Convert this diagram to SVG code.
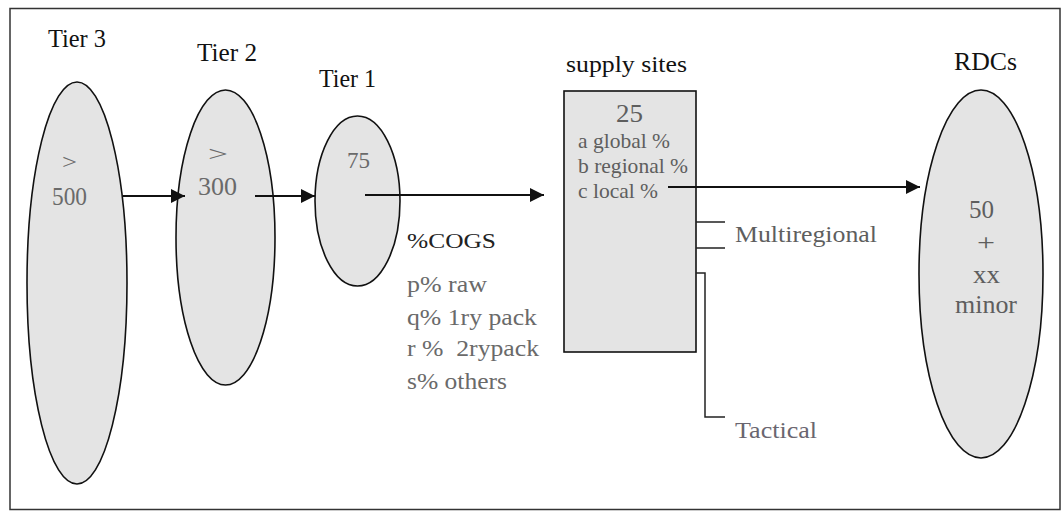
<svg xmlns="http://www.w3.org/2000/svg" width="1061" height="511" viewBox="0 0 1061 511">
  <style>
    .shape { fill: #e4e4e4; stroke: #111; stroke-width: 1.6; }
    .title { font-family: "Liberation Serif", "DejaVu Serif", serif; fill: #111; }
    .inner { font-family: "Liberation Serif", "DejaVu Serif", serif; fill: #6a6a6a; }
    .note  { font-family: "Liberation Serif", "DejaVu Serif", serif; fill: #5e5e5e; }
    .dark  { font-family: "Liberation Serif", "DejaVu Serif", serif; fill: #222; }
    .tact  { font-family: "Liberation Serif", "DejaVu Serif", serif; fill: #6a6670; }
    .link  { stroke: #111; stroke-width: 2; fill: none; }
    .bracket { stroke: #222; stroke-width: 1.5; fill: none; }
  </style>
  <defs>
    <marker id="head" viewBox="0 0 10 10" refX="10" refY="5" markerWidth="8" markerHeight="7" markerUnits="strokeWidth" orient="auto">
      <path d="M0,0 L10,5 L0,10 Z" fill="#111"/>
    </marker>
  </defs>

  <rect x="0" y="0" width="1061" height="511" fill="#ffffff"/>
  <!-- outer frame -->
  <rect x="10" y="8.5" width="1050" height="501" fill="none" stroke="#333" stroke-width="1.5"/>

  <g id="tier3">
    <ellipse class="shape" cx="77" cy="283" rx="50" ry="201"/>
    <text class="title" x="48" y="47" font-size="26" textLength="58" lengthAdjust="spacingAndGlyphs">Tier 3</text>
    <text class="inner" x="62" y="169" font-size="21" textLength="15" lengthAdjust="spacingAndGlyphs">&gt;</text>
    <text class="inner" x="52" y="205" font-size="25" textLength="35" lengthAdjust="spacingAndGlyphs">500</text>
  </g>

  <g id="tier2">
    <ellipse class="shape" cx="225.5" cy="237.5" rx="49.5" ry="147.5"/>
    <text class="title" x="197" y="61" font-size="26" textLength="60" lengthAdjust="spacingAndGlyphs">Tier 2</text>
    <text class="inner" x="208" y="161" font-size="21" textLength="20" lengthAdjust="spacingAndGlyphs">&gt;</text>
    <text class="inner" x="198" y="195" font-size="25" textLength="39" lengthAdjust="spacingAndGlyphs">300</text>
  </g>

  <g id="tier1">
    <ellipse class="shape" cx="357.5" cy="201" rx="42.5" ry="85"/>
    <text class="title" x="319" y="87" font-size="25" textLength="57" lengthAdjust="spacingAndGlyphs">Tier 1</text>
    <text class="inner" x="347" y="168" font-size="24" textLength="23" lengthAdjust="spacingAndGlyphs">75</text>
  </g>

  <g id="cogs">
    <text class="dark" x="407" y="248" font-size="22" textLength="89" lengthAdjust="spacingAndGlyphs">%COGS</text>
    <text class="inner" x="407" y="292" font-size="23" textLength="80" lengthAdjust="spacingAndGlyphs">p% raw</text>
    <text class="inner" x="407" y="325" font-size="23" textLength="130" lengthAdjust="spacingAndGlyphs">q% 1ry pack</text>
    <text class="inner" x="407" y="356" font-size="23" textLength="132" lengthAdjust="spacingAndGlyphs" xml:space="preserve">r %  2rypack</text>
    <text class="inner" x="407" y="389" font-size="23" textLength="100" lengthAdjust="spacingAndGlyphs">s% others</text>
  </g>

  <g id="supply-sites">
    <rect class="shape" x="564" y="91" width="132" height="261"/>
    <text class="title" x="566" y="72" font-size="23" textLength="121" lengthAdjust="spacingAndGlyphs">supply sites</text>
    <text class="note" x="616" y="122" font-size="25" textLength="27" lengthAdjust="spacingAndGlyphs">25</text>
    <text class="note" x="578" y="148" font-size="21" textLength="92" lengthAdjust="spacingAndGlyphs">a global %</text>
    <text class="note" x="578" y="173" font-size="21" textLength="110" lengthAdjust="spacingAndGlyphs">b regional %</text>
    <text class="note" x="578" y="198" font-size="21" textLength="80" lengthAdjust="spacingAndGlyphs">c local %</text>
  </g>

  <g id="multiregional">
    <path class="bracket" d="M696,222 H725 M696,248 H725"/>
    <text class="note" x="735" y="242" font-size="24" textLength="142" lengthAdjust="spacingAndGlyphs">Multiregional</text>
  </g>

  <g id="tactical">
    <path class="bracket" d="M696,273 H705 V417 H725"/>
    <text class="tact" x="735" y="438" font-size="24" textLength="82" lengthAdjust="spacingAndGlyphs">Tactical</text>
  </g>

  <g id="rdcs">
    <ellipse class="shape" cx="981" cy="274" rx="62" ry="184"/>
    <text class="title" x="954" y="70" font-size="25" textLength="63" lengthAdjust="spacingAndGlyphs">RDCs</text>
    <text class="note" x="969" y="218" font-size="25" textLength="25" lengthAdjust="spacingAndGlyphs">50</text>
    <text class="note" x="977" y="250" font-size="24" textLength="18" lengthAdjust="spacingAndGlyphs">+</text>
    <text class="note" x="973" y="283" font-size="25" textLength="27" lengthAdjust="spacingAndGlyphs">xx</text>
    <text class="note" x="955" y="313" font-size="25" textLength="62" lengthAdjust="spacingAndGlyphs">minor</text>
  </g>

  <g id="connectors">
    <line class="link" x1="123" y1="196" x2="185" y2="196" marker-end="url(#head)"/>
    <line class="link" x1="255" y1="196" x2="315" y2="196" marker-end="url(#head)"/>
    <line class="link" x1="365" y1="195" x2="544" y2="195" marker-end="url(#head)"/>
    <line class="link" x1="668" y1="187" x2="920" y2="187" marker-end="url(#head)"/>
  </g>
</svg>
